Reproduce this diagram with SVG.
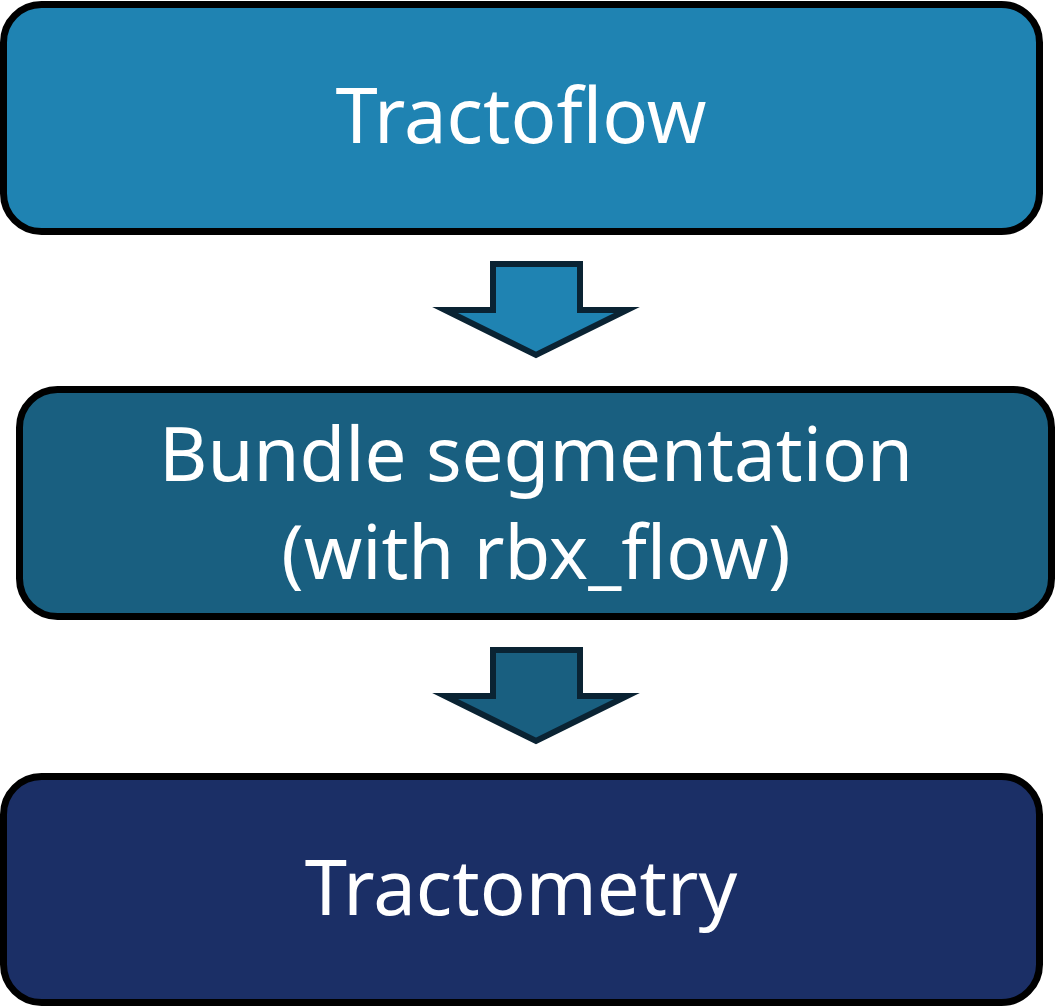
<svg xmlns="http://www.w3.org/2000/svg" width="1058" height="1008" viewBox="0 0 1058 1008">
<style>
.box{stroke:#000;stroke-width:7}
.arr{stroke:#0a2333;stroke-width:6;stroke-linejoin:miter;stroke-miterlimit:10}
.t{font-family:"Noto Sans",sans-serif;font-size:76px;fill:#fff;text-anchor:middle}
.t2{font-size:74.5px}
</style>
<g id="node-tractoflow">
<rect class="box" x="3.5" y="4.5" width="1036" height="227" rx="38" fill="#1f83b2"/>
<text class="t" x="521" y="143">Tractoflow</text>
</g>
<g id="node-bundle">
<rect class="box" x="19.5" y="389.5" width="1032" height="227" rx="38" fill="#195f80"/>
<text class="t t2" x="536" y="481">Bundle segmentation</text>
<text class="t t2" x="536" y="579">(with rbx_flow)</text>
</g>
<g id="node-tractometry">
<rect class="box" x="3.5" y="776.5" width="1036" height="226" rx="38" fill="#1b2f66"/>
<text class="t" x="521" y="915">Tractometry</text>
</g>
<g id="connectors">
<polygon class="arr" fill="#1f83b2" points="493,264 580,264 580,310 627,310 536,355 445,310 493,310"/>
<polygon class="arr" fill="#195f80" points="493,650 580,650 580,696 627,696 536,741 445,696 493,696"/>
</g>
</svg>
